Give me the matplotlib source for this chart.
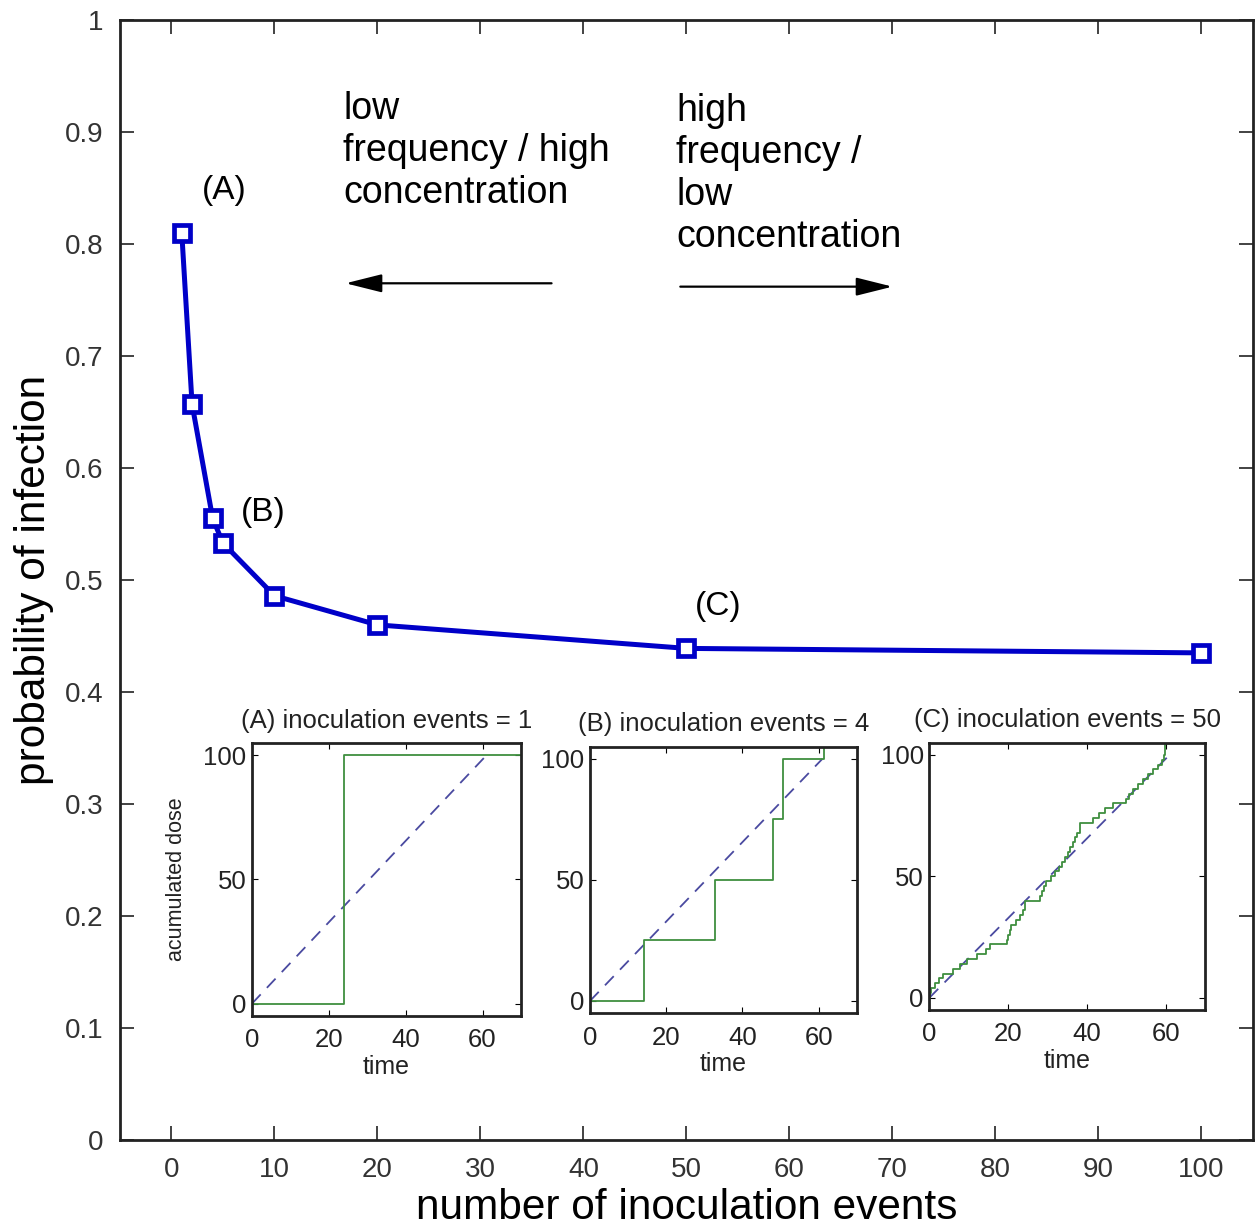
import numpy as np
import matplotlib
matplotlib.use('Agg')
import matplotlib.pyplot as plt

plt.rcParams['font.family'] = ['Liberation Sans', 'DejaVu Sans']

# probability of infection vs number of inoculation events
n_events = [1, 2, 4, 5, 10, 20, 50, 100]
p_infection = [0.81, 0.657, 0.555, 0.533, 0.486, 0.460, 0.439, 0.435]

# accumulated dose over time for three schedules (step data)
time_a = [0, 24, 24, 70]
dose_a = [0, 0, 100, 100]

time_b = [0, 14.3, 32.9, 48.0, 50.7, 61.4, 70]
dose_b = [0, 25, 50, 75, 100, 125, 125]

time_c = [0, 0.1, 0.3, 1.5, 2.5, 3.5, 6.0, 7.8, 9.5, 12.0, 14.5, 15.4, 19.6,
          20.0, 20.4, 20.8, 22.0, 23.0, 23.8, 24.2, 28.0, 28.6, 29.2, 29.7,
          31.0, 32.0, 33.0, 33.8, 34.5, 35.2, 35.8, 36.5, 37.0, 37.6, 38.2,
          41.5, 43.0, 44.5, 46.6, 50.0, 50.8, 51.6, 53.0, 54.2, 55.5, 56.7,
          58.0, 59.0, 59.6, 59.8]
dose_c = [0, 2, 4, 6, 8, 10, 12, 14, 16, 18, 20, 22, 24,
          26, 28, 30, 32, 34, 36, 40, 42, 44, 46, 48,
          50, 52, 54, 56, 58, 60, 62, 64, 66, 68, 72,
          74, 76, 78, 80, 82, 84, 86, 88, 90, 92, 94,
          96, 98, 100, 110]

# constant-rate reference dose
ref_time = [0, 61]
ref_dose = [0, 100]

fig = plt.figure(figsize=(12.55, 12.26), dpi=100)
ax = fig.add_axes([0.0956, 0.0701, 0.9028, 0.9135])
ax.plot(n_events, p_infection, color='#0000c8', lw=3.6, marker='s', ms=11,
        mfc='white', mec='#0000c8', mew=3.4)
ax.set_xlim(-5, 105)
ax.set_ylim(0, 1)
ax.set_xticks(range(0, 101, 10))
ax.set_yticks(np.arange(0, 1.01, 0.1))
ax.set_yticklabels(['0', '0.1', '0.2', '0.3', '0.4', '0.5', '0.6', '0.7',
                    '0.8', '0.9', '1'])
ax.tick_params(direction='in', length=10, width=1.2, labelsize=20, pad=12,
               top=True, right=True, colors='#222222', labelcolor='#333333')
for s in ax.spines.values():
    s.set_linewidth(2)
    s.set_color('#222222')
ax.set_xlabel('number of inoculation events', fontsize=30.5, labelpad=4)
ax.set_ylabel('probability of infection', fontsize=30.5, labelpad=8)

ax.text(5.1, 0.848, '(A)', fontsize=24, ha='center', va='center')
ax.text(8.9, 0.56, '(B)', fontsize=24, ha='center', va='center')
ax.text(53.1, 0.476, '(C)', fontsize=24, ha='center', va='center')

ax.text(16.7, 0.937, 'low\nfrequency / high\nconcentration', fontsize=27,
        ha='left', va='top', linespacing=1.22)
ax.text(49.0, 0.935, 'high\nfrequency /\nlow\nconcentration', fontsize=27,
        ha='left', va='top', linespacing=1.22)
arrow = dict(arrowstyle='-|>,head_length=1.6,head_width=0.4', color='black',
             lw=1.6, shrinkA=0, shrinkB=0, mutation_scale=14)
ax.annotate('', xy=(16.9, 0.765), xytext=(36.9, 0.765), arrowprops=arrow)
ax.annotate('', xy=(70.0, 0.762), xytext=(49.4, 0.762), arrowprops=arrow)

insets = [
    ([0.2008, 0.1713, 0.2143, 0.2227], time_a, dose_a, '(A) inoculation events = 1'),
    ([0.4701, 0.1737, 0.2125, 0.2172], time_b, dose_b, '(B) inoculation events = 4'),
    ([0.7405, 0.1762, 0.2197, 0.2180], time_c, dose_c, '(C) inoculation events = 50'),
]
for i, (rect, t, d, title) in enumerate(insets):
    ia = fig.add_axes(rect)
    ia.plot(ref_time, ref_dose, color='#4a4aa0', lw=1.3, ls=(0, (7, 5)))
    ia.plot(t, d, color='#3f8f3f', lw=1.3, drawstyle='steps-post')
    ia.set_xlim(0, 70)
    ia.set_ylim(-5, 105)
    ia.set_xticks([0, 20, 40, 60])
    ia.set_yticks([0, 50, 100])
    ia.tick_params(direction='in', length=4, width=0.8, labelsize=18.5,
                   top=True, right=True, labelcolor='#222222')
    ia.tick_params(axis='x', pad=9)
    ia.tick_params(axis='y', pad=4)
    for s in ia.spines.values():
        s.set_linewidth(2)
        s.set_color('#222222')
    ia.set_title(title, fontsize=18.5, pad=11, color='#222222')
    ia.set_xlabel('time', fontsize=18, labelpad=2, color='#222222')
    if i == 0:
        ia.set_ylabel('acumulated dose', fontsize=15.5, labelpad=12,
                      color='#222222')

fig.savefig('out.png', dpi=100)
